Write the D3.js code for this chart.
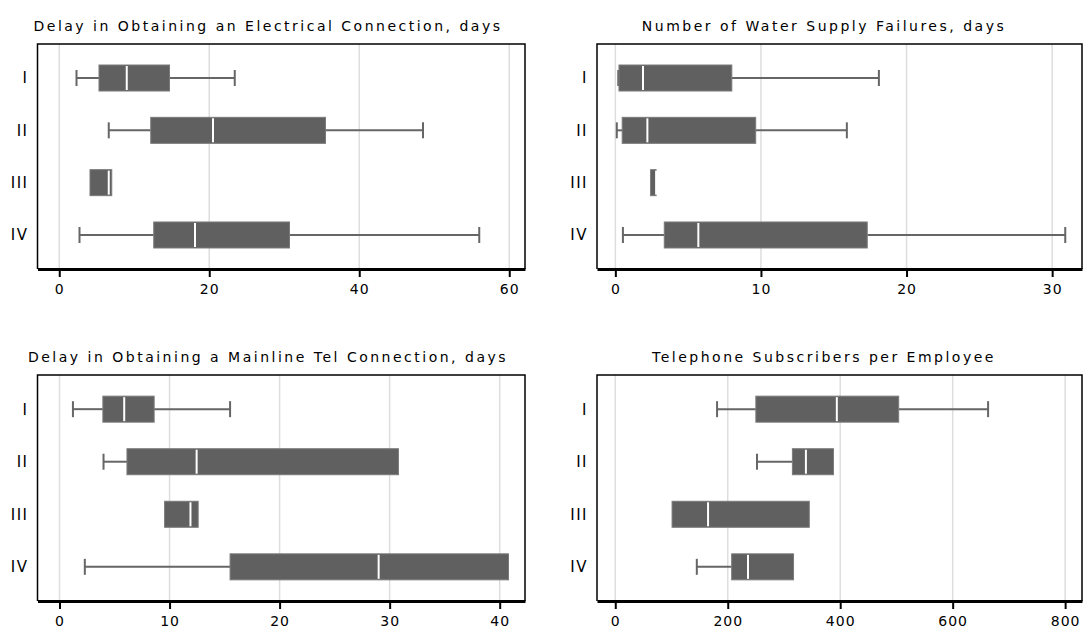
<!DOCTYPE html>
<html>
<head>
<meta charset="utf-8">
<script src="https://cdnjs.cloudflare.com/ajax/libs/d3/7.8.5/d3.min.js"></script>
<style>
  body { margin: 0; background: #fff; }
  text { font-family: "DejaVu Sans", sans-serif; fill: #000; }
</style>
</head>
<body>
<svg id="chart" width="1083" height="629"></svg>
<script>
const categories = ['I', 'II', 'III', 'IV'];

// [min, q1, median, q3, max] for each category
const electricity = [
  [2.3, 5.3, 9.0, 14.7, 23.4],
  [6.6, 12.2, 20.5, 35.5, 48.5],
  [4.1, 4.1, 6.6, 7.0, 7.0],
  [2.7, 12.6, 18.1, 30.7, 56.0]
];
const water = [
  [0.2, 0.25, 1.9, 8.0, 18.1],
  [0.1, 0.47, 2.2, 9.64, 15.9],
  [2.42, 2.42, 2.8, 2.8, 2.8],
  [0.52, 3.36, 5.7, 17.3, 30.9]
];
const telDelay = [
  [1.22, 3.94, 5.88, 8.6, 15.5],
  [4.0, 6.13, 12.46, 30.8, 30.8],
  [9.55, 9.55, 11.9, 12.6, 12.6],
  [2.3, 15.5, 29.0, 40.8, 40.8]
];
const subscribers = [
  [181, 250, 394, 504, 663],
  [252, 315, 339, 388, 388],
  [101, 101, 165, 345, 345],
  [145, 207, 236, 317, 317]
];

const titles = [
  'Delay in Obtaining an Electrical Connection, days',
  'Number of Water Supply Failures, days',
  'Delay in Obtaining a Mainline Tel Connection, days',
  'Telephone Subscribers per Employee'
];
const electricityTicks = [0, 20, 40, 60];
const waterTicks = [0, 10, 20, 30];
const telDelayTicks = [0, 10, 20, 30, 40];
const subscriberTicks = [0, 200, 400, 600, 800];

const panels = [
  { title: titles[0], data: electricity, ticks: electricityTicks, domain: [-2.9, 62.1],
    x0: 37.5, x1: 525, y0: 44, y1: 269, tx: 268, ty: 31 },
  { title: titles[1], data: water, ticks: waterTicks, domain: [-1.26, 32.05],
    x0: 597, x1: 1082, y0: 44, y1: 269, tx: 824, ty: 31 },
  { title: titles[2], data: telDelay, ticks: telDelayTicks, domain: [-2.0, 42.3],
    x0: 37.5, x1: 525, y0: 375, y1: 601, tx: 268, ty: 362 },
  { title: titles[3], data: subscribers, ticks: subscriberTicks, domain: [-32.5, 830],
    x0: 597, x1: 1082, y0: 375, y1: 601, tx: 824, ty: 362 }
];

const svg = d3.select('#chart');
const boxH = 26;
const capH = 16;
const dark = '#606060';

panels.forEach(p => {
  const g = svg.append('g');
  const x = d3.scaleLinear().domain(p.domain).range([p.x0, p.x1]);
  const y = d3.scalePoint().domain(categories).range([p.y0, p.y1]).padding(0.65);

  // title
  g.append('text')
    .attr('x', p.tx)
    .attr('y', p.ty)
    .attr('text-anchor', 'middle')
    .style('font-size', '14px')
    .style('letter-spacing', '2.5px')
    .text(p.title);

  // gridlines
  g.selectAll('line.grid')
    .data(p.ticks)
    .join('line')
    .attr('class', 'grid')
    .attr('x1', d => x(d))
    .attr('x2', d => x(d))
    .attr('y1', p.y0)
    .attr('y2', p.y1)
    .attr('stroke', '#dedede')
    .attr('stroke-width', 1.5);

  // frame (left, top, right)
  g.append('path')
    .attr('d', `M${p.x0},${p.y1}V${p.y0}H${p.x1}V${p.y1}`)
    .attr('fill', 'none')
    .attr('stroke', '#000')
    .attr('stroke-width', 1.5);

  // bottom axis
  const axis = g.append('g')
    .attr('transform', `translate(0,${p.y1})`)
    .call(d3.axisBottom(x).tickValues(p.ticks).tickSize(8).tickSizeOuter(0).tickPadding(7));
  axis.select('.domain').attr('stroke', '#000').attr('stroke-width', 3);
  axis.selectAll('.tick line').attr('stroke', '#000').attr('stroke-width', 2);
  axis.selectAll('.tick text')
    .style('font-size', '14px')
    .style('letter-spacing', '1px')
    .attr('fill', '#000')
    .attr('font-family', null);

  // category labels
  g.selectAll('text.cat')
    .data(categories)
    .join('text')
    .attr('class', 'cat')
    .attr('x', p.x0 - 9)
    .attr('y', d => y(d))
    .attr('dy', '0.36em')
    .attr('text-anchor', 'end')
    .style('font-size', '15px')
    .style('letter-spacing', '1.5px')
    .text(d => d);

  // boxes
  const rows = g.selectAll('g.box')
    .data(p.data.map((s, i) => ({ cat: categories[i], s })))
    .join('g')
    .attr('class', 'box');

  rows.each(function (d) {
    const [mn, q1, med, q3, mx] = d.s;
    const cy = y(d.cat);
    const row = d3.select(this);
    const whisker = (a, b) => {
      row.append('line')
        .attr('x1', x(a)).attr('x2', x(b))
        .attr('y1', cy).attr('y2', cy)
        .attr('stroke', '#666').attr('stroke-width', 2);
      row.append('line')
        .attr('x1', x(a)).attr('x2', x(a))
        .attr('y1', cy - capH / 2).attr('y2', cy + capH / 2)
        .attr('stroke', '#666').attr('stroke-width', 2);
    };
    if (mn < q1) whisker(mn, q1);
    if (mx > q3) whisker(mx, q3);
    row.append('rect')
      .attr('x', x(q1))
      .attr('y', cy - boxH / 2)
      .attr('width', x(q3) - x(q1))
      .attr('height', boxH)
      .attr('fill', dark)
      .attr('stroke', '#7a7a7a')
      .attr('stroke-width', 1);
    row.append('line')
      .attr('x1', x(med)).attr('x2', x(med))
      .attr('y1', cy - boxH / 2 + 1).attr('y2', cy + boxH / 2 - 1)
      .attr('stroke', '#fff')
      .attr('stroke-width', 2);
  });
});
</script>
</body>
</html>
